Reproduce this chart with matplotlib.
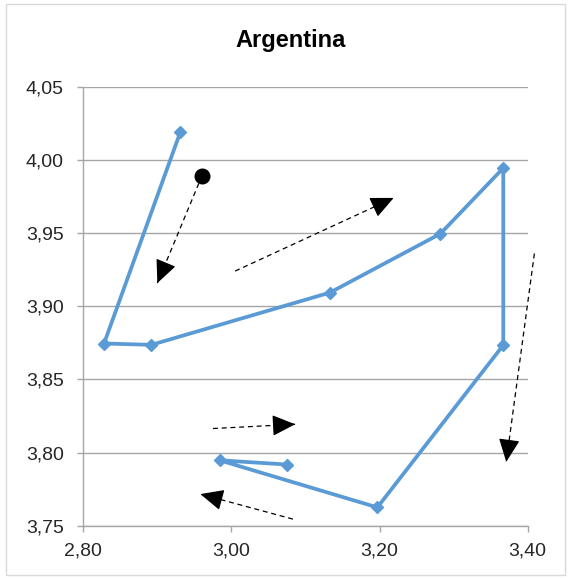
"""Argentina trajectory chart with dashed direction arrows."""

import matplotlib
matplotlib.use("Agg")
import matplotlib.pyplot as plt
from matplotlib.patches import Rectangle
from matplotlib.ticker import FuncFormatter

# data
x_vals = [2.931, 2.828, 2.892, 3.133, 3.282, 3.367, 3.367, 3.197, 2.984, 3.075]
y_vals = [4.019, 3.8745, 3.8736, 3.9093, 3.9495, 3.9944, 3.8734, 3.7625, 3.7947, 3.7918]

start_dot = (2.960, 3.989)

arrow_starts = [(2.956, 3.984), (3.005, 3.924), (3.409, 3.936), (2.975, 3.8164), (3.083, 3.7545)]
arrow_tips = [(2.900, 3.9158), (3.219, 3.974), (3.371, 3.7936), (3.086, 3.8193), (2.958, 3.7716)]

x_ticks = [2.80, 3.00, 3.20, 3.40]
y_ticks = [3.75, 3.80, 3.85, 3.90, 3.95, 4.00, 4.05]

plt.rcParams["font.family"] = ["Liberation Sans", "DejaVu Sans"]

fig = plt.figure(figsize=(5.71, 5.78), dpi=100)
ax = fig.add_axes([0.1459, 0.0905, 0.7783, 0.7595])

grey = "#A6A6A6"
ax.plot(x_vals, y_vals, color="#5B9BD5", lw=2.7, marker="D", markersize=6.5, zorder=3)
ax.plot(*start_dot, "o", color="black", markersize=10.5, zorder=4)

for (x0, y0), (x1, y1) in zip(arrow_starts, arrow_tips):
    # dashed shaft, then a solid head so its outline is not broken up
    ax.plot([x0, x1], [y0, y1], color="black", lw=0.9, ls=(0, (4, 3)),
            zorder=5, clip_on=False)
    back = (x1 - 0.05 * (x1 - x0), y1 - 0.05 * (y1 - y0))
    ax.annotate(
        "", xy=(x1, y1), xytext=back,
        arrowprops=dict(arrowstyle="-|>,head_length=1.2,head_width=0.55",
                        mutation_scale=12, lw=0.9, color="black",
                        shrinkA=0, shrinkB=0),
        zorder=5,
    )

ax.set_xlim(2.80, 3.40)
ax.set_ylim(3.75, 4.05)
ax.set_xticks(x_ticks)
ax.set_yticks(y_ticks)
fmt = FuncFormatter(lambda v, _: f"{v:.2f}".replace(".", ","))
ax.xaxis.set_major_formatter(fmt)
ax.yaxis.set_major_formatter(fmt)
ax.tick_params(labelsize=14, labelcolor="#262626", color=grey, length=4, width=1)
ax.tick_params(axis="y", pad=10)
ax.tick_params(axis="x", pad=8)
ax.yaxis.grid(True, color=grey, lw=1)
ax.set_axisbelow(True)
for side in ("top", "right"):
    ax.spines[side].set_visible(False)
for side in ("left", "bottom"):
    ax.spines[side].set_color(grey)
    ax.spines[side].set_linewidth(1)

fig.text(291 / 571, 1 - 47 / 578, "Argentina", ha="center", va="baseline",
         fontsize=17, fontweight="bold")
fig.patches.append(Rectangle((6 / 571, 3 / 578), 559 / 571, 571 / 578,
                             transform=fig.transFigure, fill=False,
                             edgecolor="#D9D9D9", lw=1))

fig.savefig("out.png", dpi=100)
plt.close(fig)
